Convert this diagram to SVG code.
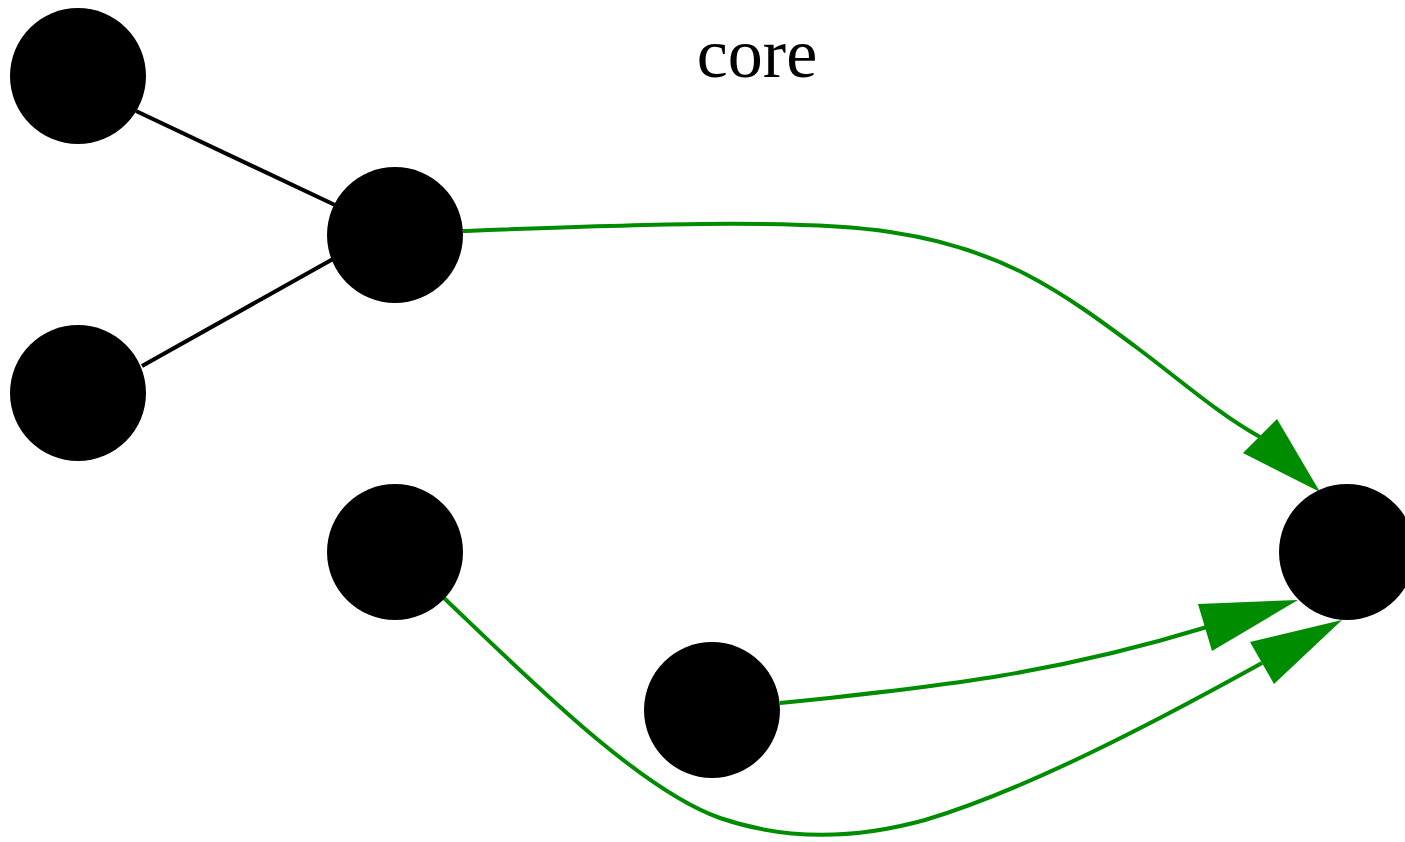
<svg xmlns="http://www.w3.org/2000/svg" width="1405" height="842" viewBox="0 0 1405 842">
<style>
.node{fill:#000}
.edge{fill:none;stroke:#000;stroke-width:4}
.green{fill:none;stroke:#008c00;stroke-width:4}
.head{fill:#008c00}
.title{font-family:"Liberation Serif",serif;font-size:70px;fill:#000}
</style>
<rect width="1405" height="842" fill="#fff"/>
<text class="title" x="757" y="77" text-anchor="middle">core</text>
<g id="connectors">
<line class="edge" x1="136" y1="111" x2="335" y2="205"/>
<line class="edge" x1="142" y1="366" x2="333" y2="259"/>
<path class="green" d="M463,231 C620,225 800,218 890,232 C1000,248 1060,290 1140,350 C1180,380 1220,415 1260,437"/>
<polygon class="head" points="1320,492 1277,419 1243,453"/>
<path class="green" d="M780,703 C950,686 1060,672 1207,627"/>
<polygon class="head" points="1298,600 1198,604 1212,651"/>
<path class="green" d="M444,598 C530,680 640,790 720,818 C790,842 860,838 925,820 C1025,790 1150,725 1262,663"/>
<polygon class="head" points="1342,620 1250,642 1274,684"/>
</g>
<g id="node-a"><circle class="node" cx="78" cy="76" r="68"/></g>
<g id="node-b"><circle class="node" cx="78" cy="393" r="68"/></g>
<g id="node-c"><circle class="node" cx="395" cy="235" r="68"/></g>
<g id="node-d"><circle class="node" cx="395" cy="552" r="68"/></g>
<g id="node-e"><circle class="node" cx="712" cy="710" r="68"/></g>
<g id="node-f"><circle class="node" cx="1347" cy="552" r="68"/></g>
</svg>
